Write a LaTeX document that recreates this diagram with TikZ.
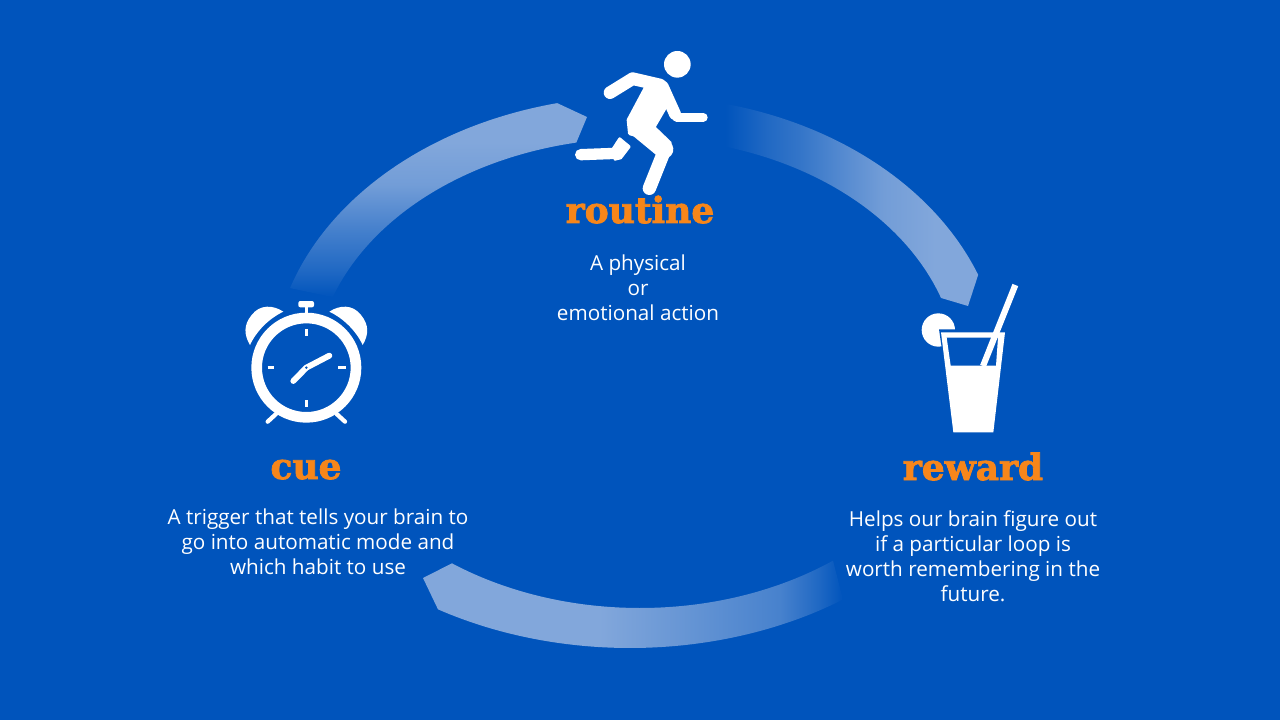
\documentclass[tikz,border=0pt]{standalone}
\usepackage{fontspec}
\setmainfont{Open Sans}
\newfontfamily\headfont[BoldFeatures={FakeBold=2.2}]{DejaVu Serif}
\definecolor{bgblue}{HTML}{0054BC}
\definecolor{bandlight}{HTML}{82A7DB}
\definecolor{headorange}{HTML}{F7861A}
\colorlet{mixa}{bandlight!25!bgblue}
\colorlet{mixe}{bandlight!40!bgblue}
\colorlet{mixb}{bandlight!55!bgblue}
\colorlet{mixf}{bandlight!60!bgblue}
\colorlet{mixc}{bandlight!75!bgblue}
\colorlet{mixd}{bandlight!88!bgblue}
\pgfdeclarehorizontalshading{fadeone}{100bp}{color(0bp)=(bgblue); color(26bp)=(bgblue); color(34bp)=(mixa); color(40.5bp)=(mixe); color(46.9bp)=(mixf); color(56.6bp)=(mixd); color(66.7bp)=(bandlight); color(100bp)=(bandlight)}
\pgfdeclarehorizontalshading{fadetwo}{100bp}{color(0bp)=(bandlight); color(46bp)=(bandlight); color(58bp)=(mixc); color(67.5bp)=(mixb); color(72bp)=(mixa); color(75bp)=(bgblue); color(100bp)=(bgblue)}
\pgfdeclareverticalshading{fadethree}{100bp}{color(0bp)=(bgblue); color(25bp)=(bgblue); color(32bp)=(mixa); color(43bp)=(mixb); color(54bp)=(mixd); color(65bp)=(bandlight); color(100bp)=(bandlight)}
\tikzset{
  headtext/.style={font=\headfont\bfseries\fontsize{27}{30}\selectfont, text=headorange, inner sep=0pt, anchor=base},
  bodytext/.style={font=\fontsize{15.5}{18.75}\selectfont, text=white, align=center, inner sep=0pt},
  icon/.style={fill=white, draw=none},
  iconline/.style={draw=white, line cap=round, line join=round},
  arc plot/.style={domain=#1, samples=60, smooth},
}
\begin{document}
\begin{tikzpicture}[x=0.75pt,y=-0.75pt]
\useasboundingbox (0,0) rectangle (1280,720);
\fill[bgblue] (0,0) rectangle (1280,720);
% bands
\shade[shading=fadethree]
  plot[arc plot=162:103] ({640+368*cos(\x)},{374-278*sin(\x)})
  -- (587,117)
  -- plot[arc plot=101.3:161] ({640+325*cos(\x)},{374-236*sin(\x)})
  -- cycle;
\shade[shading=fadeone]
  plot[arc plot=77.2:20.9] ({640+362*cos(\x)},{374-278*sin(\x)})
  -- (968,306)
  -- plot[arc plot=18.8:75.4] ({640+318*cos(\x)},{374-236*sin(\x)})
  -- cycle;
\shade[shading=fadetwo]
  plot[arc plot=-52.9:-126] ({640+320*cos(\x)},{374-234*sin(\x)})
  -- (423,578)
  -- plot[arc plot=-120.8:-55.4] ({630+375*cos(\x)},{374-274*sin(\x)})
  -- cycle;
% runner
\begin{scope}[shift={(560,40)},x=0.25pt,y=-0.25pt]
  \fill[icon] (352,73) circle (40);
  \draw[iconline,line width=9.5pt] (150,158) -- (218,116) -- (300,135);
  \draw[iconline,line width=9pt] (308,140) -- (345,222);
  \draw[iconline,line width=6.5pt] (350,232) -- (430,232);
  \fill[iconline,fill=white,line width=3pt] (262,135) -- (305,125) -- (325,185) -- (280,262) -- (330,310) -- (210,280) -- (206,240) -- cycle;
  \draw[iconline,line width=14pt] (232,262) -- (312,328);
  \draw[iconline,line width=10pt] (314,330) -- (268,445);
  \draw[iconline,line width=8.5pt] (62,344) -- (170,340);
  \fill[iconline,fill=white,line width=2pt] (160,325) -- (179,296) -- (208,320) -- (182,354) -- (165,358) -- cycle;
\end{scope}
% clock
\begin{scope}[shift={(230,290)},x=0.25pt,y=-0.25pt]
  \fill[icon,even odd rule] (229,233) circle (165) (229,233) circle (133);
  \fill[icon] (224,50) rectangle (234,75);
  \fill[icon,rounded corners=1.5pt] (205,33) rectangle (252,52);
  \fill[icon] (160,65) .. controls (130,45) and (90,42) .. (65,75) .. controls (40,105) and (42,135) .. (60,165) .. controls (80,122) and (118,85) .. cycle;
  \fill[icon] (298,65) .. controls (328,45) and (368,42) .. (393,75) .. controls (418,105) and (416,135) .. (398,165) .. controls (378,122) and (340,85) .. cycle;
  \draw[white,line width=2.2pt] (229,118) -- (229,138) (229,330) -- (229,350) (113,233) -- (133,233) (325,233) -- (347,233);
  \draw[iconline,line width=4.4pt] (229,233) -- (298,197);
  \draw[iconline,line width=4.4pt] (229,233) -- (190,273);
  \fill[bgblue] (229,233) circle (4);
  \draw[iconline,line width=3.2pt] (138,372) -- (113,395);
  \draw[iconline,line width=3.2pt] (320,372) -- (345,395);
\end{scope}
% glass
\begin{scope}[shift={(910,270)},x=0.25pt,y=-0.25pt]
  \fill[icon] (85,180) circle (50);
  \fill[bgblue] (87,178) -- (150,178) -- (150,240) -- (96,240) -- cycle;
  \fill[icon,even odd rule] (93,187) -- (285,187) -- (250,487) -- (130,487) -- cycle
     (110,203) -- (264,203) -- (258,287) -- (122,287) -- cycle;
  \draw[white,line width=4.6pt] (316,45) -- (219,288);
\end{scope}
% text
\node[headtext] (routinehead) at (640,223) {routine};
\node[bodytext] (routinebody) at (638,288) {A physical\\or\\emotional action};
\node[headtext] (cuehead) at (306,479) {cue};
\node[bodytext] (cuebody) at (318,542) {A trigger that tells your brain to\\go into automatic mode and\\which habit to use};
\node[headtext] (rewardhead) at (973,480) {reward};
\node[bodytext] (rewardbody) at (973,556.5) {Helps our brain figure out\\if a particular loop is\\worth remembering in the\\future.};
\end{tikzpicture}
\end{document}
